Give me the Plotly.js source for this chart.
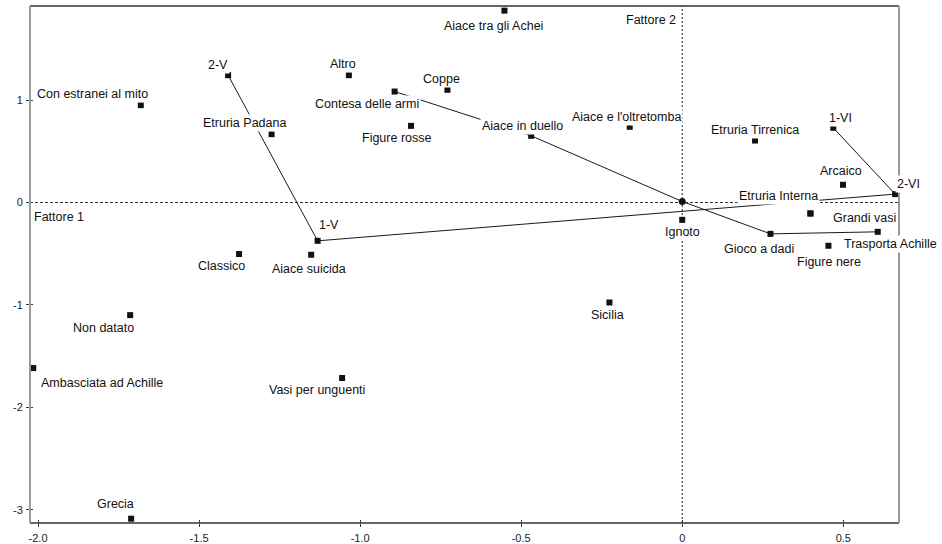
<!DOCTYPE html>
<html>
<head>
<meta charset="utf-8">
<script src="https://cdn.plot.ly/plotly-3.0.1.min.js"></script>
<style>html,body{margin:0;padding:0;background:#fff;}#chart{width:942px;height:544px;}</style>
</head>
<body>
<div id="chart"></div>
<script>
// ---- data ----
const names = ["Aiace tra gli Achei","2-V","Altro","Con estranei al mito","Coppe","Contesa delle armi",
  "Figure rosse","Etruria Padana","Aiace in duello","Aiace e l'oltretomba","Etruria Tirrenica","1-VI",
  "Arcaico","2-VI","Etruria Interna","Grandi vasi","Ignoto","Gioco a dadi","Trasporta Achille","Figure nere",
  "1-V","Classico","Aiace suicida","Non datato","Ambasciata ad Achille","Vasi per unguenti","Sicilia","Grecia"];
const xVals = [-0.552,-1.410,-1.035,-1.681,-0.729,-0.893,
  -0.842,-1.275,-0.469,-0.163,0.226,0.469,
  0.499,0.661,0.398,0.398,0.000,0.274,0.607,0.454,
  -1.132,-1.376,-1.152,-1.714,-2.015,-1.056,-0.226,-1.711];
const yVals = [1.873,1.243,1.243,0.950,1.100,1.083,
  0.748,0.667,0.651,0.739,0.605,0.729,
  0.173,0.082,-0.107,-0.107,-0.169,-0.306,-0.286,-0.422,
  -0.374,-0.503,-0.510,-1.099,-1.616,-1.713,-0.976,-3.086];
const originX = [0.000];
const originY = [0.010];
const periodPath = ["1-VI","2-VI","1-V","2-V"];
const themePath = ["Contesa delle armi","Aiace in duello","origin","Gioco a dadi","Trasporta Achille"];
const xTickVals = [-2.0,-1.5,-1.0,-0.5,0,0.5];
const xTickText = ["-2.0","-1.5","-1.0","-0.5","0","0.5"];
const yTickVals = [1,0,-1,-2,-3];
const yTickText = ["1","0","-1","-2","-3"];
const axisNames = ["Fattore 1","Fattore 2"];

// ---- label placement (pixel offsets of label centre from marker: [dx, dy down]) ----
const labelOffsets = {
  "Aiace tra gli Achei":[-11,15], "2-V":[-10,-10], "Altro":[-6,-11], "Con estranei al mito":[-48,-11],
  "Coppe":[-6,-11], "Contesa delle armi":[-28,12.5], "Figure rosse":[-14,12], "Etruria Padana":[-27,-11],
  "Aiace in duello":[-9,-10], "Aiace e l'oltretomba":[-3,-10], "Etruria Tirrenica":[0,-11], "1-VI":[7,-10],
  "Arcaico":[-2,-14], "2-VI":[13,-10], "Etruria Interna":[-31.5,-17.5], "Grandi vasi":[54,4.5],
  "Ignoto":[0,12.5], "Gioco a dadi":[-11,15], "Trasporta Achille":[12.5,12], "Figure nere":[1,16.5],
  "1-V":[11,-16], "Classico":[-18,12], "Aiace suicida":[-2,14], "Non datato":[-27,13],
  "Ambasciata ad Achille":[69,15], "Vasi per unguenti":[-25.5,12], "Sicilia":[-1.5,12.5], "Grecia":[-16,-15]
};

function lookup(n){
  if(n === "origin") return [originX[0], originY[0]];
  const i = names.indexOf(n);
  return [xVals[i], yVals[i]];
}
const FONT = '"Liberation Sans", Arial, sans-serif';

const traces = [
  {x: periodPath.map(n=>lookup(n)[0]), y: periodPath.map(n=>lookup(n)[1]), mode:'lines',
   line:{color:'#1a1a1a', width:1}, hoverinfo:'skip', cliponaxis:false},
  {x: themePath.map(n=>lookup(n)[0]), y: themePath.map(n=>lookup(n)[1]), mode:'lines',
   line:{color:'#1a1a1a', width:1}, hoverinfo:'skip', cliponaxis:false},
  {x: xVals, y: yVals, text: names, mode:'markers', type:'scatter',
   marker:{symbol:'square', size:6, color:'#111'}, cliponaxis:false},
  {x: originX, y: originY, mode:'markers', marker:{symbol:'circle', size:7, color:'#111'}, cliponaxis:false},
  {x: [xTickVals[0]], y: [yTickVals[0]], xaxis:'x2', yaxis:'y2', mode:'markers',
   marker:{opacity:0}, hoverinfo:'skip'}
];

const annotations = names.map(n => {
  const [x,y] = lookup(n);
  const o = labelOffsets[n];
  return {x:x, y:y, xref:'x', yref:'y', text:n, showarrow:false, xanchor:'center', yanchor:'middle',
    xshift:o[0], yshift:-o[1], bgcolor:'#ffffff', borderpad:1,
    font:{family:FONT, size:12.5, color:'#111'}};
});
annotations.push({xref:'paper', yref:'y', x:0, y:0, xanchor:'left', yanchor:'middle', xshift:2, yshift:-14,
  text:axisNames[0], showarrow:false, bgcolor:'#ffffff', borderpad:1, font:{family:FONT, size:12.5, color:'#111'}});
annotations.push({xref:'x', yref:'paper', x:0, y:1, xanchor:'right', yanchor:'middle', xshift:-4, yshift:-14,
  text:axisNames[1], showarrow:false, bgcolor:'#ffffff', borderpad:1, font:{family:FONT, size:12.5, color:'#111'}});

const xr = [-2.025, 0.673], yr = [-3.128, 1.918];
const layout = {
  width:942, height:544,
  margin:{l:30, r:43, t:6, b:21, pad:0},
  paper_bgcolor:'#fff', plot_bgcolor:'#fff',
  showlegend:false,
  font:{family:FONT, size:11, color:'#222'},
  xaxis:{range:xr, tickvals:xTickVals, ticktext:xTickText, ticks:'outside', ticklen:3, tickwidth:1,
    tickcolor:'#333', showgrid:false, zeroline:false, showline:false, ticklabelstandoff:2,
    tickfont:{size:11, color:'#222'}},
  yaxis:{range:yr, tickvals:yTickVals, ticktext:yTickText, ticks:'outside', ticklen:3, tickwidth:1,
    tickcolor:'#333', showgrid:false, zeroline:false, showline:false, ticklabelstandoff:1,
    tickfont:{size:11, color:'#222'}},
  xaxis2:{overlaying:'x', matches:'x', range:xr, tickvals:xTickVals, ticks:'inside', ticklen:3, tickwidth:1,
    tickcolor:'#333', showticklabels:false, showgrid:false, zeroline:false, showline:false},
  yaxis2:{overlaying:'y', matches:'y', range:yr, tickvals:yTickVals, ticks:'inside', ticklen:3, tickwidth:1,
    tickcolor:'#333', showticklabels:false, showgrid:false, zeroline:false, showline:false},
  shapes:[
    {type:'line', xref:'paper', yref:'y', x0:0, x1:1, y0:0, y1:0, layer:'below',
     line:{color:'#333', width:1, dash:'3px,2px'}},
    {type:'line', xref:'x', yref:'paper', x0:0, x1:0, y0:0, y1:1, layer:'below',
     line:{color:'#444', width:1.2, dash:'2px,2px'}},
    {type:'line', xref:'paper', yref:'paper', x0:0, x1:1, y0:1, y1:1, line:{color:'#333', width:1.5}},
    {type:'line', xref:'paper', yref:'paper', x0:0, x1:1, y0:0, y1:0, line:{color:'#333', width:1.5}},
    {type:'line', xref:'paper', yref:'paper', x0:0, x1:0, y0:0, y1:1, line:{color:'#999', width:2}},
    {type:'line', xref:'paper', yref:'paper', x0:1, x1:1, y0:0, y1:1, line:{color:'#999', width:2}}
  ],
  annotations:annotations
};
Plotly.newPlot('chart', traces, layout, {displayModeBar:false, staticPlot:true});
</script>
</body>
</html>
